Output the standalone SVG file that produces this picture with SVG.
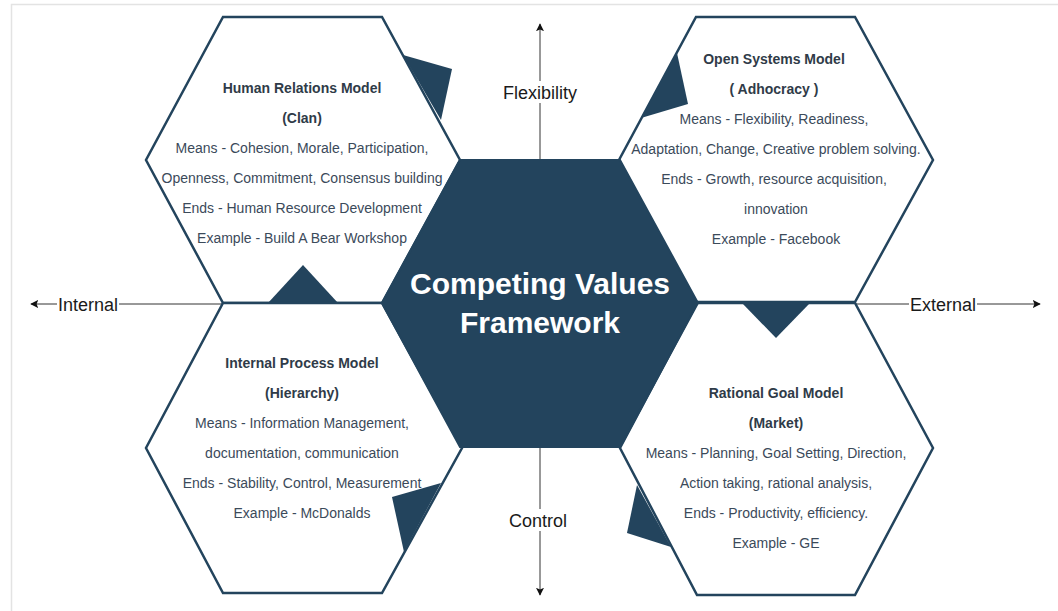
<svg xmlns="http://www.w3.org/2000/svg" width="1058" height="611" viewBox="0 0 1058 611">
<defs>
<style>
.hex{fill:#ffffff;stroke:#23445d;stroke-width:2.5;stroke-linejoin:miter}
.core{fill:#23445d;stroke:#23445d;stroke-width:2}
.tri{fill:#23445d;stroke:none}
.t{font-family:"Liberation Sans",Arial,sans-serif;font-size:14px;fill:#3b4a5a;text-anchor:middle}
.b{font-weight:bold;fill:#2f3b48}
.c{font-family:"Liberation Sans",Arial,sans-serif;font-size:30px;font-weight:bold;fill:#ffffff;text-anchor:middle}
.ax{font-family:"Liberation Sans",Arial,sans-serif;font-size:18px;fill:#1a1a1a;text-anchor:middle}
.ln{stroke:#333333;stroke-width:1;fill:none}
.frame{stroke:#e3e3e3;stroke-width:1.5;fill:none}
</style>
<marker id="ah" viewBox="0 0 10 10" refX="9" refY="5" markerWidth="8" markerHeight="8" markerUnits="userSpaceOnUse" orient="auto">
<path d="M0,0 L10,5 L0,10 L2,5 Z" fill="#111111"/>
</marker>
</defs>
<rect x="0" y="0" width="1058" height="611" fill="#ffffff"/>
<path class="frame" d="M11.5,611 L11.5,4.5 L1058,4.5"/>

<g id="connectors">
<line class="ln" x1="540" y1="160" x2="540" y2="24" marker-end="url(#ah)"/>
<line class="ln" x1="540" y1="447" x2="540" y2="595" marker-end="url(#ah)"/>
<line class="ln" x1="223" y1="304" x2="31" y2="304" marker-end="url(#ah)"/>
<line class="ln" x1="855" y1="304" x2="1040" y2="304" marker-end="url(#ah)"/>
<rect x="500" y="81" width="80" height="22" fill="#ffffff"/>
<text class="ax" x="540" y="99">Flexibility</text>
<rect x="505" y="509" width="70" height="22" fill="#ffffff"/>
<text class="ax" x="538" y="527">Control</text>
<rect x="57" y="294" width="62" height="22" fill="#ffffff"/>
<text class="ax" x="88" y="311">Internal</text>
<rect x="909" y="294" width="68" height="22" fill="#ffffff"/>
<text class="ax" x="943" y="311">External</text>
</g>

<g id="human-relations">
<polygon class="hex" points="223,17 382,17 460,160 382,303 223,303 146,160"/>
<polygon class="tri" points="403,55 452,69 441,120"/>
<polygon class="tri" points="268,303 303,265 338,303"/>
<text class="t b" x="302" y="93">Human Relations Model</text>
<text class="t b" x="302" y="123">(Clan)</text>
<text class="t" x="302" y="153">Means - Cohesion, Morale, Participation,</text>
<text class="t" x="302" y="183">Openness, Commitment, Consensus building</text>
<text class="t" x="302" y="213">Ends - Human Resource Development</text>
<text class="t" x="302" y="243">Example - Build A Bear Workshop</text>
</g>

<g id="open-systems">
<polygon class="hex" points="696,17 855,17 933,160 855,302 696,302 619,160"/>
<polygon class="tri" points="677,53 688,104 641,118"/>
<text class="t b" x="774" y="64">Open Systems Model</text>
<text class="t b" x="774" y="94">( Adhocracy )</text>
<text class="t" x="774" y="124">Means - Flexibility, Readiness,</text>
<text class="t" x="776" y="154">Adaptation, Change, Creative problem solving.</text>
<text class="t" x="774" y="184">Ends - Growth, resource acquisition,</text>
<text class="t" x="776" y="214">innovation</text>
<text class="t" x="776" y="244">Example - Facebook</text>
</g>

<g id="internal-process">
<polygon class="hex" points="223,303 382,303 462,448 382,593 223,593 146,448"/>
<polygon class="tri" points="392,497 441,483 404,552"/>
<text class="t b" x="302" y="368">Internal Process Model</text>
<text class="t b" x="302" y="398">(Hierarchy)</text>
<text class="t" x="302" y="428">Means - Information Management,</text>
<text class="t" x="302" y="458">documentation, communication</text>
<text class="t" x="302" y="488">Ends - Stability, Control, Measurement</text>
<text class="t" x="302" y="518">Example - McDonalds</text>
</g>

<g id="rational-goal">
<polygon class="hex" points="697,303 855,303 933,448 855,595 697,595 620,448"/>
<polygon class="tri" points="742,303 810,303 776,338"/>
<polygon class="tri" points="637,485 627,533 671,547"/>
<text class="t b" x="776" y="398">Rational Goal Model</text>
<text class="t b" x="776" y="428">(Market)</text>
<text class="t" x="776" y="458">Means - Planning, Goal Setting, Direction,</text>
<text class="t" x="776" y="488">Action taking, rational analysis,</text>
<text class="t" x="776" y="518">Ends - Productivity, efficiency.</text>
<text class="t" x="776" y="548">Example - GE</text>
</g>

<g id="core">
<polygon class="core" points="460,160 620,160 698,303 620,447 460,447 382,303"/>
<text class="c" x="540" y="294">Competing Values</text>
<text class="c" x="540" y="333">Framework</text>
</g>
</svg>
